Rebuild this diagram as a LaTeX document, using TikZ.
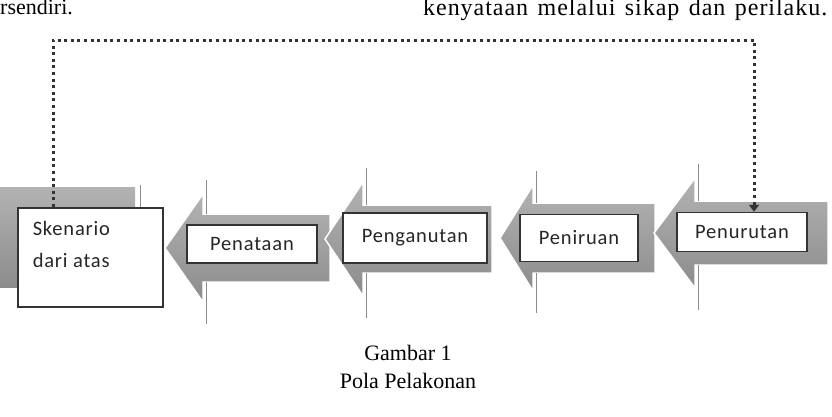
\documentclass[tikz,border=0pt]{standalone}
\usepackage{fontspec}
\setmainfont{Liberation Serif}
\newfontfamily\boxfont{Carlito}[LetterSpace=4.0]
\newfontfamily\spacedserif{Liberation Serif}[LetterSpace=4.0]
\usetikzlibrary{arrows.meta, calc}

\begin{document}
\begin{tikzpicture}[
    x=1pt, y=-1pt,
    >=Stealth,
    stagebox/.style={draw=black!80, line width=1.5pt, fill=white,
                     text=black!85,
                     font=\boxfont\fontsize{20.5}{24}\selectfont, inner sep=0pt},
    body/.style={top color=black!30, bottom color=black!45, draw=white,
                 line width=1.5pt},
    notchline/.style={draw=black!45, line width=0.8pt},
    feedback/.style={draw=black!80, line width=3pt,
                     dash pattern=on 3pt off 3.6pt,
                     -{Triangle[width=10pt,length=7pt]}},
    serifnote/.style={font=\fontsize{22}{26}\selectfont, inner sep=0pt}
  ]
  \useasboundingbox (0,0) rectangle (832,416);

  % Page text above
  \node[serifnote, anchor=base west] (t0) at (0,14) {rsendiri.};
  \node[serifnote, anchor=base west, font=\fontsize{24}{28}\selectfont]
    (t1) at (423,15)
    {\spacedserif\makebox[404pt][s]{kenyataan melalui sikap dan perilaku.}};

  % Skenario panel
  \fill[top color=black!30, bottom color=black!45] (0,187) rectangle (135,287);
  \draw[notchline] (140,185) -- (140,207);

  % Arrows
  \foreach \tip/\cy/\base/\hh/\sh/\tail in {165/248/203/54/34/330,
      325/239/363/57/34/492, 500/238/533/53/35/655, 654/233/695/55/32/828} {
    \draw[body] (\tip,\cy) -- (\base,\cy-\hh) -- (\base,\cy-\sh)
      -- (\tail,\cy-\sh) -- (\tail,\cy+\sh) -- (\base,\cy+\sh)
      -- (\base,\cy+\hh) -- cycle;
    \draw[notchline] (\base+3,\cy-\hh-14) -- (\base+3,\cy-\sh);
    \draw[notchline] (\base+3,\cy+\sh) -- (\base+3,\cy+\hh+22);
  }

  % Stage boxes
  \node[stagebox, anchor=north west, inner xsep=15pt] (b0) at (17,207)
    {\fontsize{20.5}{32}\selectfont\begin{tabular}{@{}p{115pt}@{}}
      \rule{0pt}{28pt}Skenario\\dari atas\\[29.4pt]\end{tabular}};
  \foreach \i/\x/\y/\w/\h/\t in {1/252/244/130/38/Penataan,
      2/415/238/144/50/Penganutan, 3/579/238/118/47/Peniruan,
      4/742/232/130/39/Penurutan} {
    \node[stagebox, minimum width=\w, minimum height=\h] (b\i) at (\x,\y) {\t};
  }

  % Feedback loop
  \coordinate (top) at (53,40);
  \draw[feedback] (top |- b0.north) -- (top) -| ([xshift=12pt]b4.north);

  % Caption
  \node[serifnote, anchor=base] (c0) at (408,360) {Gambar 1};
  \node[serifnote, anchor=base] (c1) at (408,388) {Pola Pelakonan};
\end{tikzpicture}
\end{document}
